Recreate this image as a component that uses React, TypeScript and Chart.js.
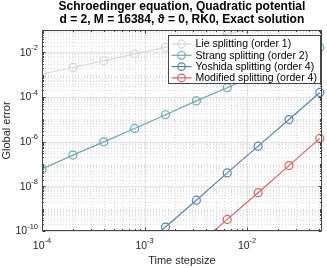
import React, { useEffect, useRef } from 'react';
import { Chart, registerables } from 'chart.js';

Chart.register(...registerables);

// ---------- data ----------
const stepsizes = [1e-4, 2e-4, 4e-4, 8e-4, 1.6e-3, 3.2e-3, 6.4e-3, 1.28e-2, 2.56e-2, 5.12e-2];
const lieErrors = [1.07e-3, 2.1e-3, 4.2e-3, 8.4e-3, 1.68e-2, 3.3e-2, 6.6e-2, 1.3e-1, 2.6e-1, 5.0e-1];
const strangErrors = [6.0e-8, 2.5e-7, 9.8e-7, 3.9e-6, 1.6e-5, 6.7e-5, 2.6e-4, 1.05e-3, 4.2e-3, 1.66e-2];
const yoshidaErrors = [null, null, null, 9.5e-12, 1.5e-10, 2.4e-9, 4.0e-8, 6.3e-7, 9.8e-6, 1.6e-4];
const modifiedErrors = [null, null, null, null, null, 2.1e-11, 3.3e-10, 5.2e-9, 8.5e-8, 1.4e-6];

const seriesLabels = [
  'Lie splitting (order 1)',
  'Strang splitting (order 2)',
  'Yoshida splitting (order 4)',
  'Modified splitting (order 4)',
];
const seriesColors = ['rgb(212,212,212)', 'rgb(104,172,172)', 'rgb(84,134,182)', 'rgb(226,96,96)'];

const xTickValues = [1e-4, 1e-3, 1e-2];
const xTickExponents = ['-4', '-3', '-2'];
const yTickValues = [1e-10, 1e-8, 1e-6, 1e-4, 1e-2];
const yTickExponents = ['-10', '-8', '-6', '-4', '-2'];

const titleLines = [
  'Schroedinger equation, Quadratic potential',
  'd = 2, M = 16384, \u03D1 = 0, RK0, Exact solution',
];
const xAxisTitle = 'Time stepsize';
const yAxisTitle = 'Global error';

const X_MIN = 1e-4;
const X_MAX = 0.0535;
const Y_MIN = 1e-10;
const Y_MAX = 1e-1;

const FONT = '"Liberation Sans", Arial, Helvetica, sans-serif';

function toPoints(vals: (number | null)[]) {
  const pts: { x: number; y: number }[] = [];
  vals.forEach((v, i) => {
    if (v !== null) pts.push({ x: stepsizes[i], y: v });
  });
  return pts;
}

function drawPow(ctx: CanvasRenderingContext2D, exp: string, x: number, y: number, align: 'right' | 'center') {
  ctx.font = `10.5px ${FONT}`;
  const wb = ctx.measureText('10').width;
  ctx.font = `7.5px ${FONT}`;
  const we = ctx.measureText(exp).width;
  const total = wb + we;
  const sx = align === 'right' ? x - total : x - total / 2;
  ctx.textAlign = 'left';
  ctx.textBaseline = 'middle';
  ctx.font = `10.5px ${FONT}`;
  ctx.fillText('10', sx, y);
  ctx.font = `7.5px ${FONT}`;
  ctx.fillText(exp, sx + wb, y - 5);
}

const matlabPlugin = {
  id: 'matlabAxes',
  beforeDatasetsDraw(chart: any) {
    const ctx: CanvasRenderingContext2D = chart.ctx;
    const { left, right, top, bottom } = chart.chartArea;
    const xs = chart.scales.x;
    const ys = chart.scales.y;
    ctx.save();
    ctx.fillStyle = '#fff';
    ctx.fillRect(left, top, right - left, bottom - top);
    ctx.lineWidth = 1;
    // minor grid
    ctx.strokeStyle = 'rgb(224,224,224)';
    ctx.setLineDash([1, 2]);
    for (let e = -5; e <= 0; e++) {
      for (let m = 1; m <= 9; m++) {
        const v = m * Math.pow(10, e);
        if (v <= X_MIN * 1.0001 || v >= X_MAX) continue;
        if (m === 1 && xTickValues.some((t) => Math.abs(t - v) / v < 1e-6)) continue;
        const px = Math.round(xs.getPixelForValue(v)) + 0.5;
        ctx.beginPath();
        ctx.moveTo(px, top);
        ctx.lineTo(px, bottom);
        ctx.stroke();
      }
    }
    for (let e = -11; e <= 0; e++) {
      for (let m = 1; m <= 9; m++) {
        const v = m * Math.pow(10, e);
        if (v <= Y_MIN * 1.0001 || v >= Y_MAX * 0.9999) continue;
        if (m === 1 && yTickValues.some((t) => Math.abs(t - v) / v < 1e-6)) continue;
        const py = Math.round(ys.getPixelForValue(v)) + 0.5;
        ctx.beginPath();
        ctx.moveTo(left, py);
        ctx.lineTo(right, py);
        ctx.stroke();
      }
    }
    // major grid
    ctx.setLineDash([]);
    ctx.strokeStyle = 'rgb(226,226,226)';
    xTickValues.forEach((v) => {
      const px = Math.round(xs.getPixelForValue(v)) + 0.5;
      ctx.beginPath();
      ctx.moveTo(px, top);
      ctx.lineTo(px, bottom);
      ctx.stroke();
    });
    yTickValues.forEach((v) => {
      const py = Math.round(ys.getPixelForValue(v)) + 0.5;
      ctx.beginPath();
      ctx.moveTo(left, py);
      ctx.lineTo(right, py);
      ctx.stroke();
    });
    ctx.restore();
  },
  afterDatasetsDraw(chart: any) {
    const ctx: CanvasRenderingContext2D = chart.ctx;
    const { left, right, top, bottom } = chart.chartArea;
    const xs = chart.scales.x;
    const ys = chart.scales.y;
    const axisColor = 'rgb(70,70,70)';
    ctx.save();
    ctx.lineWidth = 1;
    ctx.strokeStyle = axisColor;
    // ticks (inward, all four sides)
    const L = Math.round(left) + 0.5;
    const R = Math.round(right) - 0.5;
    const T = Math.round(top) + 0.5;
    const B = Math.round(bottom) - 0.5;
    ctx.beginPath();
    for (let e = -5; e <= 0; e++) {
      for (let m = 1; m <= 9; m++) {
        const v = m * Math.pow(10, e);
        if (v < X_MIN * 0.9999 || v > X_MAX) continue;
        const major = m === 1 && xTickValues.some((t) => Math.abs(t - v) / v < 1e-6);
        const len = major ? 3 : 1.5;
        const px = Math.round(xs.getPixelForValue(v)) + 0.5;
        ctx.moveTo(px, B);
        ctx.lineTo(px, B - len);
        ctx.moveTo(px, T);
        ctx.lineTo(px, T + len);
      }
    }
    for (let e = -11; e <= 0; e++) {
      for (let m = 1; m <= 9; m++) {
        const v = m * Math.pow(10, e);
        if (v < Y_MIN * 0.9999 || v > Y_MAX * 1.0001) continue;
        const major = m === 1 && yTickValues.some((t) => Math.abs(t - v) / v < 1e-6);
        const len = major ? 3 : 1.5;
        const py = Math.round(ys.getPixelForValue(v)) + 0.5;
        ctx.moveTo(L, py);
        ctx.lineTo(L + len, py);
        ctx.moveTo(R, py);
        ctx.lineTo(R - len, py);
      }
    }
    ctx.stroke();
    // box
    ctx.strokeRect(L, T, R - L, B - T);

    // tick labels
    ctx.fillStyle = 'rgb(38,38,38)';
    yTickValues.forEach((v, i) => {
      drawPow(ctx, yTickExponents[i], left - 4, ys.getPixelForValue(v) + 0.5, 'right');
    });
    xTickValues.forEach((v, i) => {
      drawPow(ctx, xTickExponents[i], xs.getPixelForValue(v), bottom + 15, 'center');
    });

    // axis titles
    ctx.font = `11px ${FONT}`;
    ctx.textAlign = 'center';
    ctx.textBaseline = 'middle';
    ctx.fillText(xAxisTitle, (left + right) / 2, bottom + 30);
    ctx.save();
    ctx.translate(7, (top + bottom) / 2);
    ctx.rotate(-Math.PI / 2);
    ctx.fillText(yAxisTitle, 0, 0);
    ctx.restore();

    // title
    ctx.fillStyle = '#000';
    ctx.font = `bold 12px ${FONT}`;
    ctx.fillText(titleLines[0], (left + right) / 2, 7);
    ctx.fillText(titleLines[1], (left + right) / 2, 19.5);

    // legend
    const lw = 152;
    const lh = 48;
    const lx = Math.round(right - 2 - lw) + 0.5;
    const ly = Math.round(top + 5) + 0.5;
    ctx.fillStyle = '#fff';
    ctx.fillRect(lx, ly, lw, lh);
    ctx.strokeStyle = axisColor;
    ctx.lineWidth = 1;
    ctx.strokeRect(lx, ly, lw, lh);
    chart.data.datasets.forEach((ds: any, i: number) => {
      const ry = ly + 8.5 + i * 11.3;
      ctx.strokeStyle = ds.borderColor;
      ctx.lineWidth = 1.2;
      ctx.beginPath();
      ctx.moveTo(lx + 3, ry);
      ctx.lineTo(lx + 23, ry);
      ctx.stroke();
      ctx.beginPath();
      ctx.arc(lx + 13, ry, 3.8, 0, Math.PI * 2);
      ctx.stroke();
      ctx.fillStyle = '#000';
      ctx.font = `10.5px ${FONT}`;
      ctx.textAlign = 'left';
      ctx.textBaseline = 'middle';
      ctx.fillText(ds.label, lx + 27, ry + 0.5);
    });
    ctx.restore();
  },
};

export default function App() {
  const canvasRef = useRef<HTMLCanvasElement | null>(null);

  useEffect(() => {
    document.body.style.margin = '0';
    const canvas = canvasRef.current;
    if (!canvas) return;
    const allSeries = [lieErrors, strangErrors, yoshidaErrors, modifiedErrors];
    const chart = new Chart(canvas, {
      type: 'line',
      data: {
        datasets: allSeries.map((vals, i) => ({
          label: seriesLabels[i],
          data: toPoints(vals),
          borderColor: seriesColors[i],
          backgroundColor: 'rgba(0,0,0,0)',
          borderWidth: 1.2,
          pointRadius: 4,
          pointBorderWidth: 1.2,
          pointBackgroundColor: 'rgba(0,0,0,0)',
          pointBorderColor: seriesColors[i],
          pointStyle: 'circle',
          tension: 0,
          fill: false,
          clip: { left: 0, top: 0, right: 6, bottom: 0 },
        })),
      },
      options: {
        responsive: false,
        animation: false,
        devicePixelRatio: 1,
        layout: { padding: { left: 42, top: 30, right: 3, bottom: 37 } },
        plugins: {
          legend: { display: false },
          title: { display: false },
          tooltip: { enabled: false },
        },
        scales: {
          x: { type: 'logarithmic', min: X_MIN, max: X_MAX, display: false },
          y: { type: 'logarithmic', min: Y_MIN, max: Y_MAX, display: false },
        },
      },
      plugins: [matlabPlugin],
    });
    return () => chart.destroy();
  }, []);

  return (
    <div style={{ width: 327, height: 268, background: '#fff' }}>
      <canvas ref={canvasRef} width={327} height={268} style={{ display: 'block' }} />
    </div>
  );
}
